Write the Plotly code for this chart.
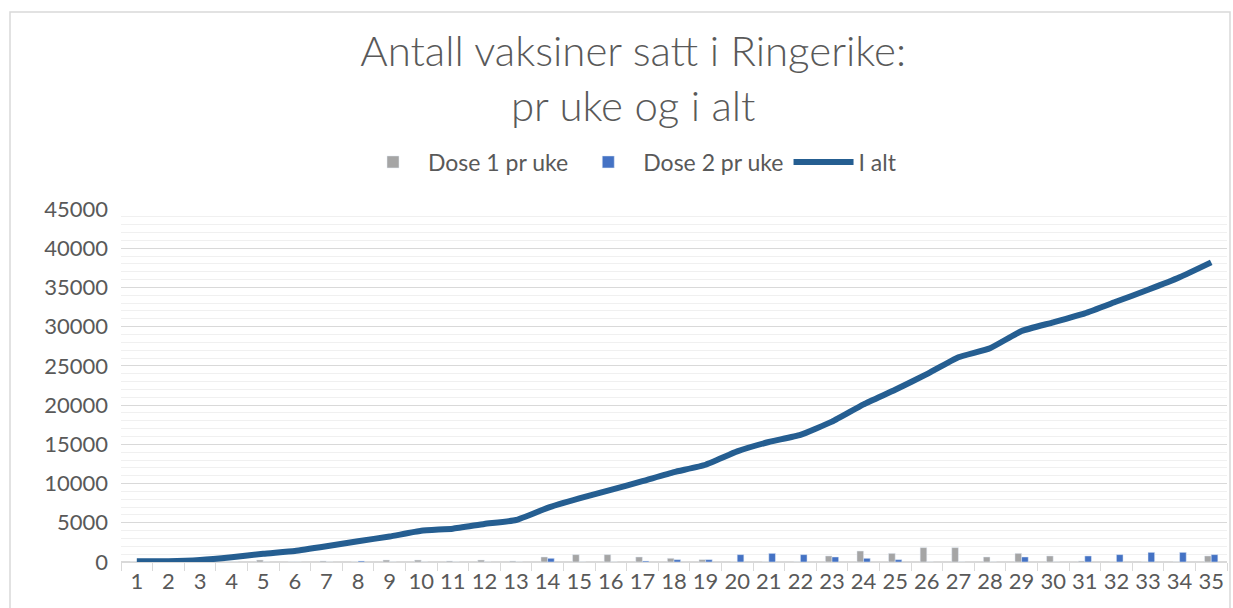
import plotly.graph_objects as go

weeks = [str(i) for i in range(1, 36)]
dose1 = [0, 0, 0, 0, 250, 0, 130, 0, 250, 250, 130, 250, 120, 640, 940, 940, 640, 470, 300, 0,
         0, 0, 770, 1400, 1100, 1830, 1830, 640, 1100, 770, 130, 0, 0, 0, 770]
dose2 = [0, 0, 0, 0, 0, 0, 0, 130, 0, 0, 0, 0, 0, 470, 0, 0, 130, 300, 300, 940,
         1100, 940, 640, 470, 300, 0, 0, 0, 640, 0, 770, 940, 1230, 1230, 940]
total = [100, 100, 250, 600, 1050, 1400, 2000, 2650, 3250, 3980, 4250, 4850, 5350, 6900, 8100,
         9200, 10300, 11450, 12400, 14100, 15300, 16200, 17900, 20100, 21950, 23950, 26100, 27250,
         29450, 30550, 31700, 33200, 34700, 36300, 38200]
y_ticks = list(range(0, 45001, 5000))
y_labels = [str(v) for v in y_ticks]

FONT = "Lato"
TXT = "#595959"

fig = go.Figure()
fig.add_trace(go.Bar(x=weeks, y=dose1, name="Dose 1 pr uke", marker_color="#a5a5a5"))
fig.add_trace(go.Bar(x=weeks, y=dose2, name="Dose 2 pr uke", marker_color="#4472c4"))
fig.add_trace(go.Scatter(x=weeks, y=total, name="I alt", mode="lines",
                         line=dict(color="#255e91", width=6, shape="spline", smoothing=0.4)))

L, R, T, B = 121, 6, 209, 46
W, H = 1233, 608
pw, ph = W - L - R, H - T - B

fig.update_layout(
    width=W, height=H,
    margin=dict(l=L, r=R, t=T, b=B),
    paper_bgcolor="white", plot_bgcolor="white",
    font=dict(family=FONT, color=TXT),
    title=dict(text="Antall vaksiner satt i Ringerike:<br>pr uke og i alt",
               x=0.5135, xanchor="center", y=1 - 66 / H, yanchor="middle",
               font=dict(family=FONT, size=42, color=TXT, weight=300)),
    barmode="group", bargap=0.58, bargroupgap=0,
    legend=dict(orientation="h", x=(630 - L) / pw, xanchor="center",
                y=1 + (T - 162) / ph, yanchor="middle",
                font=dict(family=FONT, size=23, color=TXT), itemwidth=60,
                bgcolor="rgba(0,0,0,0)"),
    showlegend=True,
    shapes=[dict(type="rect", xref="paper", yref="paper",
                 x0=(10 - L) / pw, x1=(1230 - L) / pw,
                 y0=-(B + 5) / ph, y1=1 + (T - 12) / ph,
                 line=dict(color="#d9d9d9", width=1.5), fillcolor="rgba(0,0,0,0)", layer="below")],
)
fig.update_xaxes(type="category", showgrid=False, showline=True, linecolor="#d9d9d9", linewidth=1,
                 ticks="outside", tickson="boundaries", ticklen=8, tickcolor="#d9d9d9",
                 tickangle=0, tickfont=dict(family=FONT, size=22, color=TXT))
fig.update_yaxes(range=[0, 45000], tickvals=y_ticks, ticktext=y_labels, showgrid=True,
                 gridcolor="#d9d9d9", gridwidth=1.2, zeroline=True, zerolinecolor="#d9d9d9",
                 minor=dict(dtick=1000, showgrid=True, gridcolor="#f0f0f0", gridwidth=1),
                 ticklabelstandoff=12, tickfont=dict(family=FONT, size=22, color=TXT))

fig.write_html("out.html", config={"displayModeBar": False},
               post_script="document.body.style.margin='0';document.body.style.overflow='hidden';")
